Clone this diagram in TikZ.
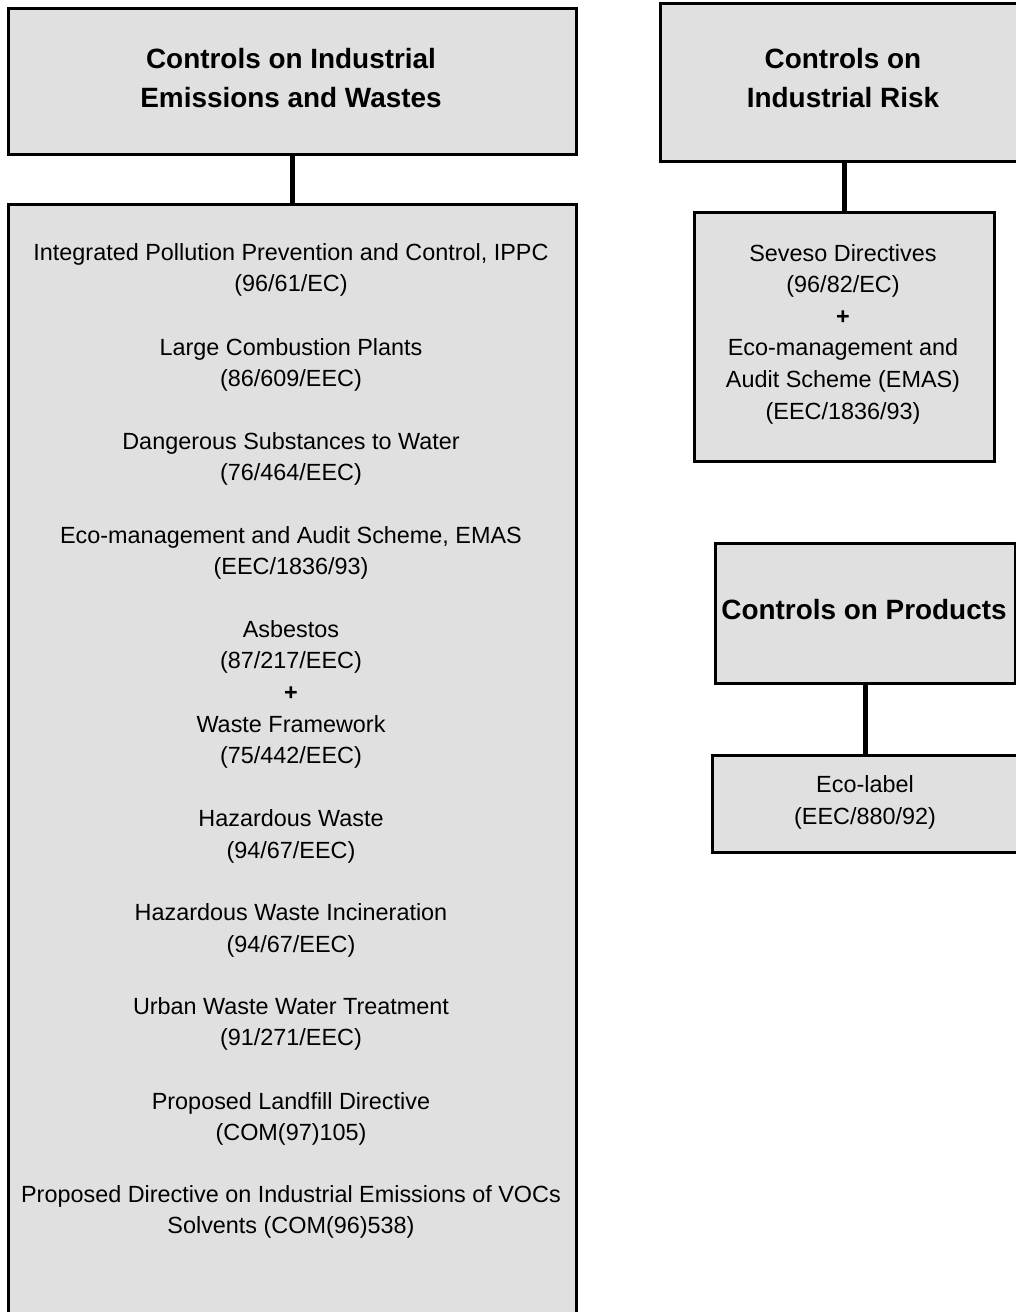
\documentclass[tikz,border=0pt]{standalone}
\usepackage{fontspec}
\setmainfont{Liberation Sans}
\definecolor{boxgray}{RGB}{224,224,224}
\tikzset{
  box/.style={draw=black, line width=2.6pt, fill=boxgray, inner sep=0pt, anchor=north west},
  link/.style={draw=black, line width=5pt},
  head/.style={font=\fontsize{27.9}{39}\selectfont\bfseries, align=center},
  item/.style={font=\fontsize{23.4}{31.6}\selectfont, align=center, inner sep=0pt}
}
\begin{document}
\begin{tikzpicture}[x=1pt,y=-1pt]
\useasboundingbox (0,0) rectangle (1016,1312);
\clip (0,0) rectangle (1016,1312);
% boxes
\node[box, minimum width=568pt, minimum height=146pt] (A) at (7,7) {};
\node[box, minimum width=568pt, minimum height=1130pt] (B) at (7,203) {};
\node[box, minimum width=371pt, minimum height=158pt] (R) at (659,2) {};
\node[box, minimum width=300pt, minimum height=249pt] (S) at (693,211) {};
\node[box, minimum width=300pt, minimum height=140pt] (P) at (714,542) {};
\node[box, minimum width=309pt, minimum height=97pt] (E) at (711,754) {};
% headers
\node[head] (Ah) at (291,78.5) {Controls on Industrial\\Emissions and Wastes};
\node[head] (Rh) at (843,78.5) {Controls on\\Industrial Risk};
\node[head] (Ph) at (864,610) {Controls on Products};
% connectors
\draw[link] (A.south) -- (A.south |- B.north);
\draw[link] (S.north |- R.south) -- (S.north);
\draw[link] (P.south) -- (P.south |- E.north);
% right texts
\node[item] (St) at (843,334) {Seveso Directives\\(96/82/EC)\\\textbf{+}\\Eco-management and\\Audit Scheme (EMAS)\\(EEC/1836/93)};
\node[item] (Et) at (865,802.5) {Eco-label\\(EEC/880/92)};
% left items
\node[item] (i1) at (291,270) {Integrated Pollution Prevention and Control, IPPC\\(96/61/EC)};
\node[item] (i2) at (291,365) {Large Combustion Plants\\(86/609/EEC)};
\node[item] (i3) at (291,459) {Dangerous Substances to Water\\(76/464/EEC)};
\node[item] (i4) at (291,553) {Eco-management and Audit Scheme, EMAS\\(EEC/1836/93)};
\node[item] (i5) at (291,694.5) {Asbestos\\(87/217/EEC)\\\textbf{+}\\Waste Framework\\(75/442/EEC)};
\node[item] (i6) at (291,836.5) {Hazardous Waste\\(94/67/EEC)};
\node[item] (i7) at (291,930.5) {Hazardous Waste Incineration\\(94/67/EEC)};
\node[item] (i8) at (291,1024) {Urban Waste Water Treatment\\(91/271/EEC)};
\node[item] (i9) at (291,1119) {Proposed Landfill Directive\\(COM(97)105)};
\node[item] (i10) at (291,1212) {Proposed Directive on Industrial Emissions of VOCs\\Solvents (COM(96)538)};
\end{tikzpicture}
\end{document}
